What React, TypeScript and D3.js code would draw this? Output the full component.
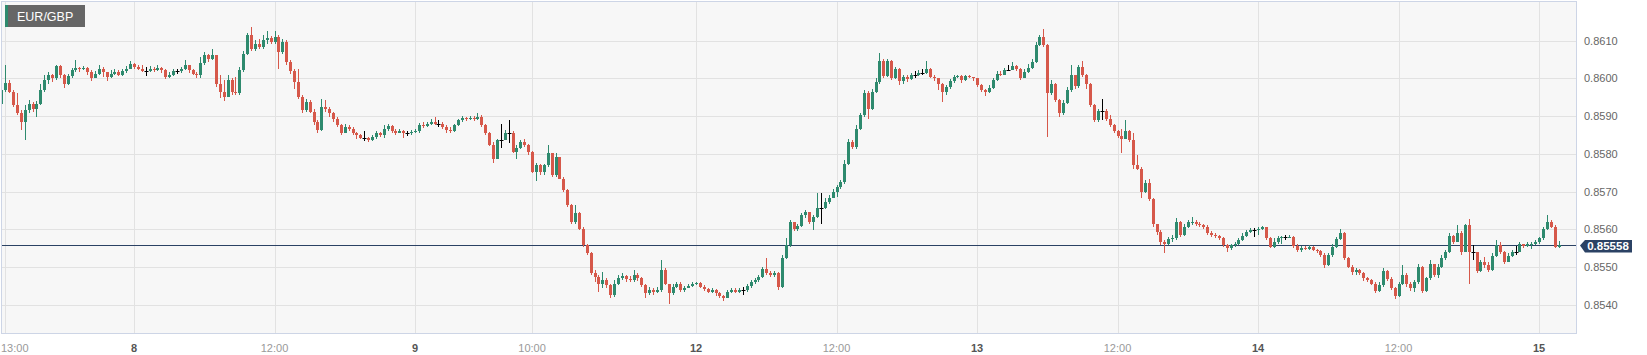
import React from "react";
import * as d3 from "d3";

const SYMBOL = "EUR/GBP";
const LAST_PRICE = 0.85558;
const FIRST_OPEN_PIPS = 8593.3;
// 20-minute candles, index relative to day 8 00:00 (weekend removed)
const FIRST_INDEX = -34;
// prices in pips (price x 10 000)
const CLOSES = [
  8596.8, 8598.9, 8596.4, 8592.9, 8590.7, 8588.5, 8591.5, 8593.3, 8592.0, 8593.3,
  8596.8, 8599.5, 8600.8, 8600.0, 8603.3, 8600.8, 8598.6, 8600.6, 8602.1, 8602.8,
  8602.4, 8602.8, 8601.7, 8600.0, 8601.3, 8602.6, 8601.7, 8600.4, 8601.3, 8601.7,
  8601.0, 8601.9, 8602.6, 8603.9, 8603.0, 8602.6, 8602.0, 8602.0, 8602.6, 8602.1,
  8602.8, 8602.1, 8600.4, 8601.0, 8601.9, 8601.9, 8602.6, 8603.6, 8602.1, 8601.3,
  8600.8, 8604.2, 8606.1, 8605.2, 8606.3, 8598.6, 8596.4, 8595.1, 8599.5, 8596.4,
  8596.0, 8602.1, 8606.6, 8611.4, 8607.9, 8609.2, 8608.3, 8610.1, 8610.7, 8609.6,
  8611.0, 8607.0, 8609.6, 8604.3, 8601.9, 8599.1, 8595.1, 8591.5, 8593.8, 8591.1,
  8588.5, 8586.2, 8592.4, 8592.0, 8590.7, 8589.3, 8587.6, 8585.4, 8587.1, 8586.7,
  8585.4, 8584.9, 8584.2, 8584.2, 8583.6, 8584.5, 8585.4, 8584.9, 8586.7, 8587.4,
  8586.0, 8585.6, 8586.0, 8585.4, 8585.4, 8585.8, 8586.0, 8587.6, 8587.4, 8587.9,
  8588.5, 8588.0, 8588.0, 8587.1, 8586.2, 8586.0, 8587.6, 8588.9, 8589.5, 8589.2,
  8589.5, 8589.2, 8589.7, 8587.6, 8585.4, 8582.4, 8578.7, 8583.6, 8583.6, 8585.4,
  8585.4, 8580.5, 8581.6, 8583.2, 8582.4, 8580.5, 8575.2, 8577.1, 8575.2, 8577.0,
  8580.1, 8574.3, 8579.2, 8573.4, 8570.3, 8566.4, 8562.0, 8564.2, 8560.2, 8555.8,
  8553.6, 8548.3, 8547.4, 8545.6, 8546.5, 8545.2, 8542.5, 8545.6, 8547.0, 8547.7,
  8546.8, 8546.5, 8547.8, 8547.0, 8545.2, 8543.0, 8543.9, 8543.4, 8543.9, 8549.2,
  8545.6, 8543.0, 8544.7, 8545.6, 8543.9, 8544.5, 8545.0, 8545.5, 8545.7, 8544.7,
  8544.1, 8543.4, 8543.9, 8543.0, 8542.4, 8541.8, 8543.4, 8543.9, 8543.4, 8543.9,
  8543.9, 8545.0, 8545.9, 8546.5, 8547.4, 8549.4, 8548.5, 8547.8, 8548.3, 8544.7,
  8552.3, 8555.8, 8561.8, 8560.0, 8560.9, 8563.7, 8564.6, 8562.0, 8563.3, 8565.7,
  8565.7, 8567.3, 8568.3, 8569.9, 8571.2, 8572.6, 8577.4, 8583.2, 8581.8, 8586.7,
  8590.2, 8596.0, 8592.0, 8596.4, 8599.1, 8604.5, 8600.6, 8604.5, 8600.1, 8602.6,
  8599.2, 8600.4, 8599.8, 8601.0, 8601.0, 8601.5, 8601.5, 8602.6, 8600.4, 8600.0,
  8598.6, 8596.4, 8597.7, 8599.2, 8600.4, 8600.6, 8599.5, 8600.6, 8600.3, 8600.0,
  8598.3, 8596.8, 8596.4, 8597.5, 8599.5, 8601.3, 8601.0, 8602.1, 8602.1, 8603.3,
  8602.6, 8600.1, 8601.7, 8602.8, 8604.3, 8608.8, 8611.0, 8608.8, 8596.0, 8598.6,
  8594.2, 8590.7, 8593.6, 8596.8, 8600.8, 8598.0, 8603.0, 8600.8, 8598.6, 8592.9,
  8589.1, 8591.3, 8591.3, 8589.3, 8587.7, 8586.0, 8584.7, 8584.0, 8586.0, 8583.6,
  8577.0, 8576.1, 8569.9, 8572.4, 8568.0, 8561.3, 8559.3, 8556.7, 8556.0, 8557.4,
  8557.6, 8562.0, 8558.6, 8560.6, 8561.8, 8562.0, 8561.3, 8561.1, 8560.6, 8559.1,
  8558.4, 8558.3, 8557.6, 8555.8, 8555.1, 8555.8, 8556.1, 8557.1, 8558.3, 8559.3,
  8559.8, 8559.8, 8560.0, 8560.6, 8557.6, 8555.3, 8556.7, 8557.6, 8557.9, 8557.9,
  8558.0, 8555.6, 8554.5, 8555.1, 8554.7, 8555.3, 8554.6, 8554.2, 8553.3, 8550.5,
  8553.1, 8555.3, 8557.4, 8558.9, 8552.3, 8550.1, 8548.7, 8549.2, 8548.3, 8547.1,
  8546.5, 8545.6, 8543.6, 8545.2, 8548.9, 8546.8, 8544.3, 8542.4, 8545.4, 8548.0,
  8545.4, 8544.3, 8545.9, 8550.1, 8543.6, 8547.0, 8550.7, 8548.0, 8550.1, 8552.3,
  8553.9, 8558.3, 8556.7, 8559.1, 8554.0, 8561.1, 8553.9, 8553.9, 8548.9, 8551.2,
  8550.5, 8549.2, 8553.0, 8555.8, 8554.0, 8551.4, 8553.0, 8553.9, 8553.9, 8556.0,
  8555.6, 8556.0, 8556.2, 8556.7, 8557.6, 8560.0, 8562.0, 8560.6, 8555.3, 8555.8,
];
const HIGHS = [
  8597.7, 8603.5, 8599.5, 8596.8, 8596.0, 8591.5, 8592.9, 8594.2, 8593.8, 8593.9,
  8598.6, 8600.8, 8601.7, 8601.3, 8603.6, 8603.5, 8601.3, 8601.3, 8602.8, 8604.8,
  8603.0, 8603.3, 8603.0, 8602.1, 8601.9, 8603.5, 8603.0, 8601.7, 8602.1, 8602.4,
  8602.1, 8602.6, 8603.3, 8604.5, 8604.2, 8603.5, 8603.5, 8603.0, 8603.3, 8603.0,
  8603.6, 8603.0, 8602.6, 8601.7, 8602.4, 8602.6, 8603.0, 8604.8, 8603.6, 8602.6,
  8601.7, 8605.7, 8607.0, 8606.6, 8607.9, 8606.0, 8600.8, 8599.5, 8600.8, 8600.0,
  8600.4, 8603.0, 8607.4, 8612.1, 8613.6, 8610.1, 8610.5, 8611.4, 8612.7, 8611.2,
  8612.7, 8611.4, 8610.5, 8610.1, 8604.8, 8602.6, 8602.6, 8595.5, 8594.5, 8594.2,
  8592.0, 8588.9, 8594.6, 8594.2, 8592.4, 8591.1, 8589.8, 8588.0, 8588.0, 8587.6,
  8587.1, 8585.8, 8585.2, 8586.0, 8584.5, 8585.1, 8586.0, 8585.8, 8587.6, 8588.0,
  8587.6, 8586.5, 8586.5, 8586.2, 8586.0, 8586.2, 8586.5, 8588.3, 8588.5, 8588.5,
  8589.3, 8589.8, 8588.9, 8588.5, 8587.6, 8587.1, 8588.0, 8589.3, 8590.1, 8589.8,
  8590.1, 8590.1, 8590.7, 8590.2, 8588.0, 8585.8, 8583.2, 8584.0, 8587.9, 8586.2,
  8589.1, 8586.0, 8582.3, 8583.6, 8584.0, 8582.7, 8580.7, 8577.7, 8577.4, 8577.4,
  8582.3, 8580.1, 8580.1, 8579.2, 8573.9, 8570.8, 8566.8, 8566.4, 8564.6, 8560.6,
  8556.2, 8554.0, 8549.2, 8547.8, 8548.7, 8547.0, 8545.6, 8546.5, 8548.0, 8548.3,
  8548.0, 8547.7, 8549.2, 8548.3, 8547.4, 8545.6, 8544.7, 8544.3, 8544.7, 8551.8,
  8549.6, 8545.6, 8545.6, 8546.1, 8545.9, 8545.0, 8545.4, 8545.9, 8546.1, 8545.9,
  8545.2, 8544.5, 8544.5, 8544.1, 8543.4, 8542.7, 8543.9, 8544.3, 8544.3, 8544.5,
  8544.7, 8545.6, 8546.5, 8547.1, 8548.0, 8550.1, 8552.5, 8548.9, 8548.9, 8548.7,
  8553.1, 8557.6, 8562.4, 8562.0, 8561.5, 8564.4, 8565.1, 8564.6, 8563.9, 8569.5,
  8569.5, 8568.2, 8569.0, 8570.8, 8571.8, 8573.0, 8578.3, 8584.0, 8583.6, 8587.6,
  8590.9, 8596.8, 8596.6, 8597.3, 8600.0, 8606.8, 8605.1, 8605.2, 8604.8, 8603.0,
  8602.8, 8601.0, 8601.0, 8601.5, 8601.9, 8602.1, 8602.6, 8604.5, 8602.8, 8600.8,
  8600.1, 8598.9, 8598.3, 8599.8, 8600.8, 8601.0, 8600.8, 8601.0, 8600.8, 8600.5,
  8600.1, 8598.6, 8597.3, 8598.2, 8600.0, 8601.9, 8601.9, 8602.8, 8603.6, 8604.3,
  8603.6, 8602.8, 8602.4, 8603.9, 8605.2, 8609.6, 8611.6, 8613.0, 8609.0, 8599.5,
  8598.9, 8594.6, 8594.2, 8597.7, 8603.5, 8601.0, 8603.6, 8604.5, 8601.3, 8598.9,
  8593.3, 8592.0, 8594.5, 8592.0, 8590.2, 8588.0, 8586.2, 8586.5, 8588.9, 8586.2,
  8585.4, 8579.6, 8576.5, 8573.0, 8573.4, 8568.2, 8561.5, 8559.8, 8557.1, 8558.0,
  8558.4, 8563.0, 8562.1, 8561.3, 8562.4, 8563.3, 8562.4, 8562.0, 8561.5, 8561.1,
  8559.5, 8558.9, 8558.6, 8558.0, 8556.2, 8556.2, 8556.7, 8557.7, 8558.9, 8559.8,
  8560.4, 8560.4, 8560.6, 8560.9, 8560.6, 8558.0, 8557.6, 8558.3, 8558.3, 8558.4,
  8558.4, 8558.3, 8556.0, 8555.6, 8555.6, 8555.8, 8555.6, 8554.9, 8554.5, 8553.6,
  8553.6, 8556.2, 8558.0, 8560.2, 8559.3, 8552.7, 8550.5, 8549.8, 8549.4, 8548.7,
  8547.4, 8546.8, 8546.1, 8545.9, 8549.6, 8549.2, 8547.4, 8544.7, 8545.9, 8550.5,
  8548.3, 8546.1, 8546.5, 8550.7, 8550.3, 8547.4, 8551.8, 8550.9, 8550.7, 8553.1,
  8554.5, 8558.9, 8558.6, 8561.1, 8559.5, 8561.5, 8562.6, 8555.8, 8553.9, 8551.8,
  8552.7, 8551.2, 8553.6, 8557.1, 8556.7, 8554.2, 8553.6, 8554.5, 8555.6, 8556.5,
  8556.2, 8556.7, 8556.7, 8557.1, 8558.0, 8560.6, 8563.9, 8562.4, 8561.1, 8556.8,
];
const LOWS = [
  8592.9, 8596.4, 8596.0, 8592.4, 8590.2, 8586.2, 8583.8, 8590.7, 8591.1, 8589.8,
  8592.9, 8596.4, 8598.6, 8599.1, 8599.5, 8600.0, 8597.5, 8598.2, 8600.1, 8601.7,
  8601.7, 8602.1, 8601.0, 8599.2, 8600.0, 8600.8, 8600.4, 8599.2, 8600.1, 8600.8,
  8600.6, 8600.6, 8601.5, 8602.4, 8602.4, 8602.1, 8601.8, 8600.6, 8601.7, 8601.7,
  8601.9, 8601.5, 8599.8, 8600.1, 8600.6, 8601.3, 8601.5, 8602.1, 8601.5, 8600.8,
  8600.1, 8600.1, 8603.6, 8604.3, 8604.8, 8597.7, 8594.8, 8593.9, 8595.1, 8595.5,
  8595.5, 8595.5, 8601.7, 8606.1, 8607.2, 8607.4, 8607.7, 8607.9, 8609.2, 8609.0,
  8609.2, 8602.6, 8606.6, 8603.6, 8601.3, 8597.3, 8594.6, 8590.9, 8591.1, 8590.7,
  8587.6, 8585.6, 8586.0, 8591.1, 8589.8, 8588.5, 8587.1, 8585.1, 8585.4, 8586.0,
  8584.9, 8584.0, 8583.9, 8583.3, 8583.2, 8583.3, 8584.0, 8584.5, 8584.2, 8586.0,
  8585.4, 8585.1, 8585.4, 8584.2, 8584.7, 8585.1, 8585.4, 8585.6, 8586.9, 8587.1,
  8587.6, 8587.6, 8587.1, 8586.5, 8585.6, 8585.4, 8585.8, 8587.4, 8588.5, 8588.8,
  8588.9, 8588.6, 8588.9, 8587.1, 8584.9, 8582.1, 8577.7, 8578.6, 8581.6, 8583.9,
  8583.0, 8580.1, 8578.7, 8581.2, 8581.8, 8579.6, 8574.8, 8572.7, 8574.3, 8574.5,
  8576.5, 8573.9, 8573.9, 8573.3, 8569.9, 8565.9, 8561.5, 8561.5, 8559.8, 8555.3,
  8553.1, 8547.8, 8546.1, 8543.4, 8544.3, 8544.3, 8541.7, 8542.1, 8545.2, 8546.5,
  8546.1, 8545.9, 8546.1, 8546.3, 8544.7, 8541.7, 8542.5, 8542.7, 8543.0, 8543.4,
  8545.2, 8540.3, 8542.5, 8544.3, 8543.4, 8543.4, 8544.3, 8544.7, 8545.2, 8544.3,
  8543.6, 8543.0, 8543.2, 8542.4, 8541.8, 8541.0, 8541.7, 8543.0, 8543.0, 8543.2,
  8542.7, 8543.4, 8544.5, 8545.6, 8546.1, 8547.0, 8548.0, 8547.3, 8547.4, 8543.9,
  8544.3, 8552.1, 8555.3, 8559.5, 8559.5, 8560.6, 8563.0, 8561.5, 8559.8, 8563.0,
  8561.5, 8565.5, 8566.8, 8568.2, 8568.6, 8570.8, 8572.1, 8577.0, 8581.2, 8581.2,
  8586.2, 8589.8, 8589.3, 8591.5, 8596.0, 8598.6, 8600.1, 8600.4, 8599.5, 8599.8,
  8598.3, 8598.6, 8599.1, 8599.5, 8600.1, 8600.6, 8600.8, 8601.3, 8600.0, 8599.2,
  8596.8, 8593.8, 8595.5, 8597.3, 8598.9, 8600.0, 8598.9, 8599.2, 8600.0, 8599.4,
  8597.7, 8596.4, 8595.3, 8596.2, 8597.3, 8599.2, 8600.6, 8600.8, 8601.9, 8602.1,
  8601.9, 8599.5, 8600.0, 8601.5, 8602.4, 8604.2, 8608.6, 8608.3, 8584.5, 8595.5,
  8593.8, 8589.8, 8590.4, 8593.3, 8596.4, 8597.3, 8597.5, 8600.4, 8597.1, 8592.4,
  8588.5, 8588.5, 8588.9, 8588.6, 8587.1, 8585.4, 8584.2, 8580.1, 8583.9, 8583.2,
  8576.1, 8575.7, 8568.2, 8569.5, 8567.4, 8560.6, 8558.6, 8555.8, 8553.6, 8555.8,
  8556.7, 8557.1, 8558.0, 8558.3, 8560.4, 8561.1, 8560.8, 8560.6, 8560.0, 8558.6,
  8558.0, 8557.7, 8557.1, 8555.3, 8554.0, 8554.5, 8555.3, 8555.8, 8556.8, 8558.0,
  8558.9, 8558.0, 8558.6, 8559.8, 8557.1, 8555.1, 8555.1, 8556.2, 8556.2, 8557.1,
  8557.6, 8555.1, 8554.0, 8554.0, 8554.4, 8554.5, 8554.2, 8553.8, 8552.7, 8549.8,
  8550.3, 8552.7, 8555.1, 8557.1, 8551.8, 8549.6, 8548.0, 8547.8, 8547.8, 8546.3,
  8545.9, 8545.2, 8543.2, 8543.4, 8544.7, 8546.3, 8543.9, 8541.5, 8542.1, 8545.2,
  8544.7, 8543.6, 8543.4, 8545.4, 8543.0, 8543.4, 8546.5, 8547.4, 8547.1, 8549.8,
  8551.8, 8553.6, 8556.2, 8556.5, 8553.1, 8553.9, 8545.6, 8551.8, 8548.5, 8548.7,
  8549.8, 8548.7, 8548.9, 8552.7, 8553.5, 8550.9, 8551.2, 8552.7, 8553.1, 8554.0,
  8555.1, 8555.3, 8554.9, 8555.8, 8556.2, 8557.1, 8559.8, 8560.4, 8555.1, 8555.1,
];

const X_TICK_LABELS = ["13:00", "8", "12:00", "9", "10:00", "12", "12:00", "13", "12:00", "14", "12:00", "15"];
const X_TICK_INDEX = [-33, 0, 36, 72, 102, 144, 180, 216, 252, 288, 324, 360];
const X_TICK_IS_DAY = [false, true, false, true, false, true, false, true, false, true, false, true];
const Y_TICKS = [0.854, 0.855, 0.856, 0.857, 0.858, 0.859, 0.86, 0.861];

const W = 1647;
const H = 355;
const PLOT = { left: 1.5, top: 1.5, right: 1576.5, bottom: 333.5 };
const UP = "#2e8a6e";
const DOWN = "#d6584a";
const FONT = "'Liberation Sans', Arial, sans-serif";

export default function App() {
  const x = d3.scaleLinear().domain([0, 360]).range([134, 1539]);
  const y = d3.scaleLinear().domain([0.854, 0.861]).range([304.7, 40.7]);

  const candles = CLOSES.map((c, i) => {
    const open = (i === 0 ? FIRST_OPEN_PIPS : CLOSES[i - 1]) / 1e4;
    const close = c / 1e4;
    return {
      k: FIRST_INDEX + i,
      open,
      close,
      high: Math.max(HIGHS[i] / 1e4, open, close),
      low: Math.min(LOWS[i] / 1e4, open, close),
    };
  });

  const lastY = Math.round(y(LAST_PRICE)) + 0.5;

  return (
    <svg
      width={W}
      height={H}
      style={{ position: "absolute", left: 0, top: 0, background: "#fff" }}
      fontFamily={FONT}
    >
      <defs>
        <clipPath id="plotclip">
          <rect x={PLOT.left} y={PLOT.top} width={PLOT.right - PLOT.left} height={PLOT.bottom - PLOT.top} />
        </clipPath>
      </defs>
      <rect x={0} y={0} width={W} height={H} fill="#fff" />
      <rect
        x={PLOT.left}
        y={PLOT.top}
        width={PLOT.right - PLOT.left}
        height={PLOT.bottom - PLOT.top}
        fill="#f7f7f7"
      />
      <g clipPath="url(#plotclip)">
        {Y_TICKS.map((t) => {
          const yy = Math.round(y(t)) + 0.5;
          return <line key={"hg" + t} x1={PLOT.left} x2={PLOT.right} y1={yy} y2={yy} stroke="#e2e2e2" strokeWidth={1} />;
        })}
        {X_TICK_INDEX.map((k, i) => {
          const xx = Math.round(x(k)) + 0.5;
          return <line key={"vg" + i} x1={xx} x2={xx} y1={PLOT.top} y2={PLOT.bottom} stroke="#e2e2e2" strokeWidth={1} />;
        })}
        <line x1={PLOT.left} x2={1580} y1={lastY} y2={lastY} stroke="#2b4264" strokeWidth={1} />
        {candles.map((d) => {
          const cx = Math.round(x(d.k));
          const doji = d.open === d.close;
          const color = doji ? "#000" : d.close > d.open ? UP : DOWN;
          const top = Math.round(y(Math.max(d.open, d.close)));
          const bot = Math.round(y(Math.min(d.open, d.close)));
          const hy = Math.round(y(d.high));
          const ly = Math.round(y(d.low));
          return (
            <g key={"c" + d.k}>
              <line x1={cx + 0.5} x2={cx + 0.5} y1={hy} y2={Math.max(ly, hy + 1)} stroke={color} strokeWidth={1} />
              {doji ? (
                <rect x={cx - 1.5} y={top} width={4} height={1} fill={color} />
              ) : (
                <rect x={cx - 1} y={top} width={3} height={Math.max(1, bot - top)} fill={color} />
              )}
            </g>
          );
        })}
      </g>
      <rect
        x={PLOT.left}
        y={PLOT.top}
        width={PLOT.right - PLOT.left}
        height={PLOT.bottom - PLOT.top}
        fill="none"
        stroke="#cdd5e6"
        strokeWidth={1}
      />
      {Y_TICKS.map((t) => (
        <text key={"yl" + t} x={1584} y={y(t) + 4} fontSize={11} fill="#666">
          {d3.format(".4f")(t)}
        </text>
      ))}
      {X_TICK_INDEX.map((k, i) => {
        const xx = x(k);
        const isFirst = xx < 16;
        return (
          <text
            key={"xl" + i}
            x={isFirst ? 1 : xx}
            y={352}
            fontSize={11}
            textAnchor={isFirst ? "start" : "middle"}
            fill={X_TICK_IS_DAY[i] ? "#555" : "#999"}
            fontWeight={X_TICK_IS_DAY[i] ? "bold" : "normal"}
          >
            {X_TICK_LABELS[i]}
          </text>
        );
      })}
      <path
        d={`M1580,${lastY} L1585,240 L1632,240 L1632,252.5 L1585,252.5 Z`}
        fill="#2b4264"
      />
      <text x={1608} y={250} fontSize={11.5} fontWeight="bold" fill="#fff" textAnchor="middle">
        {d3.format(".5f")(LAST_PRICE)}
      </text>
      <rect x={5} y={5} width={80} height={22} fill="#666" />
      <rect x={5} y={5} width={3} height={22} fill={UP} />
      <text x={17} y={21} fontSize={12.5} fill="#fff">
        {SYMBOL}
      </text>
    </svg>
  );
}
